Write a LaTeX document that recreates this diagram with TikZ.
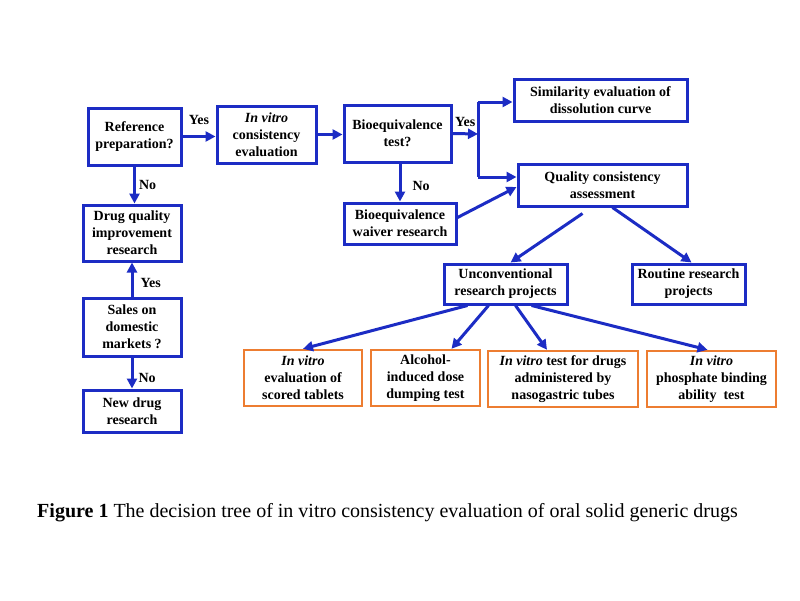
\documentclass[tikz,border=0pt]{standalone}
\usepackage{fontspec}
\setmainfont{Liberation Serif}
\usetikzlibrary{arrows.meta}
\definecolor{boxblue}{RGB}{28,44,196}
\definecolor{boxorange}{RGB}{237,125,49}
\begin{document}
\begin{tikzpicture}[x=1pt,y=-1pt,
    bbox/.style={draw=boxblue,line width=3pt,align=center,inner sep=2pt,
      font=\fontsize{14}{17}\selectfont\bfseries},
    obox/.style={bbox,draw=boxorange,line width=2.4pt},
    arr/.style={draw=boxblue,line width=3pt,-{Triangle[length=10pt,width=10pt]}},
    lbl/.style={font=\fontsize{14}{17}\selectfont\bfseries,inner sep=1pt}]
  \useasboundingbox (0,0) rectangle (800,600);
  % blue decision boxes
  \node[bbox,minimum width=93pt,minimum height=57pt] (ref) at (134.5,136.5) {Reference\\preparation?};
  \node[bbox,minimum width=99pt,minimum height=57pt] (ivc) at (266.5,134.5) {\textit{In vitro}\\consistency\\evaluation};
  \node[bbox,minimum width=107pt,minimum height=57pt] (bet) at (397.5,133.5) {Bioequivalence\\test?};
  \node[bbox,minimum width=98pt,minimum height=56pt] (dqi) at (132,233) {Drug quality\\improvement\\research};
  \node[bbox,minimum width=112pt,minimum height=41pt] (bwr) at (400,223.5) {Bioequivalence\\waiver research};
  \node[bbox,minimum width=173pt,minimum height=42pt] (sim) at (600.5,100) {Similarity evaluation of\\dissolution curve};
  \node[bbox,minimum width=169pt,minimum height=42pt] (qca) at (602.5,185) {Quality consistency\\assessment};
  \node[bbox,minimum width=123pt,minimum height=40pt] (urp) at (505.5,284) {Unconventional\\research projects};
  \node[bbox,minimum width=113pt,minimum height=40pt] (rrp) at (688.5,284) {Routine research\\projects};
  \node[bbox,minimum width=98pt,minimum height=58pt] (sdm) at (132,327) {Sales on\\domestic\\markets ?};
  \node[bbox,minimum width=98pt,minimum height=42pt] (ndr) at (132,411) {New drug\\research};
  % orange test boxes
  \node[obox,minimum width=118pt,minimum height=56pt] (st) at (303,378) {\textit{In vitro}\\evaluation of\\scored tablets};
  \node[obox,minimum width=109pt,minimum height=56pt] (ald) at (425.5,378) {Alcohol-\\induced dose\\dumping test};
  \node[obox,minimum width=150pt,minimum height=56pt] (ivt) at (563,379) {\textit{In vitro} test for drugs\\administered by\\nasogastric tubes};
  \node[obox,minimum width=129pt,minimum height=56pt] (ipb) at (711.5,379) {\textit{In vitro}\\phosphate binding\\ability~ test};
  % branch point after the bioequivalence test
  \coordinate (jn) at (478,134);
  \coordinate (jtop) at (478,102);
  \coordinate (jbot) at (478,177);
  % connectors
  \draw[arr] (ref.east) -- node[lbl,above=9pt]{Yes} (ref.east -| ivc.west);
  \draw[arr] (ivc.east) -- (ivc.east -| bet.west);
  \draw[arr] (bet.east) -- node[lbl,above=5pt]{Yes} (jn);
  \draw[draw=boxblue,line width=3pt] (jtop) -- (jbot);
  \draw[arr] (jtop) -- (jtop -| sim.west);
  \draw[arr] (jbot) -- (jbot -| qca.west);
  \draw[arr] (bet.south -| bwr.north) -- node[lbl,right=10pt,pos=0.6]{No} (bwr.north);
  \draw[arr] ([yshift=6pt]bwr.east) -- ([yshift=-2pt]qca.west);
  \draw[arr] (ref.south) -- node[lbl,right=2pt]{No} (ref.south |- dqi.north);
  \draw[arr] (sdm.north) -- node[lbl,right=6pt,pos=0.4]{Yes} (sdm.north |- dqi.south);
  \draw[arr] (sdm.south) -- node[lbl,right=4pt,pos=0.65]{No} (ndr.north);
  \draw[arr] ([xshift=-20pt,yshift=-6pt]qca.south) -- ([xshift=5pt]urp.north);
  \draw[arr] ([xshift=10pt]qca.south) -- ([xshift=3pt]rrp.north);
  \draw[arr] ([xshift=-38pt]urp.south) -- (st.north);
  \draw[arr] ([xshift=-17pt]urp.south) -- ([xshift=26pt]ald.north);
  \draw[arr] ([xshift=10pt]urp.south) -- ([xshift=-16pt]ivt.north);
  \draw[arr] ([xshift=26pt]urp.south) -- ([xshift=-4pt]ipb.north);
  % caption
  \node[font=\fontsize{20}{24}\selectfont,inner sep=0pt] (cap) at (387.5,513)
    {\textbf{Figure 1} The decision tree of in vitro consistency evaluation of oral solid generic drugs};
\end{tikzpicture}
\end{document}
